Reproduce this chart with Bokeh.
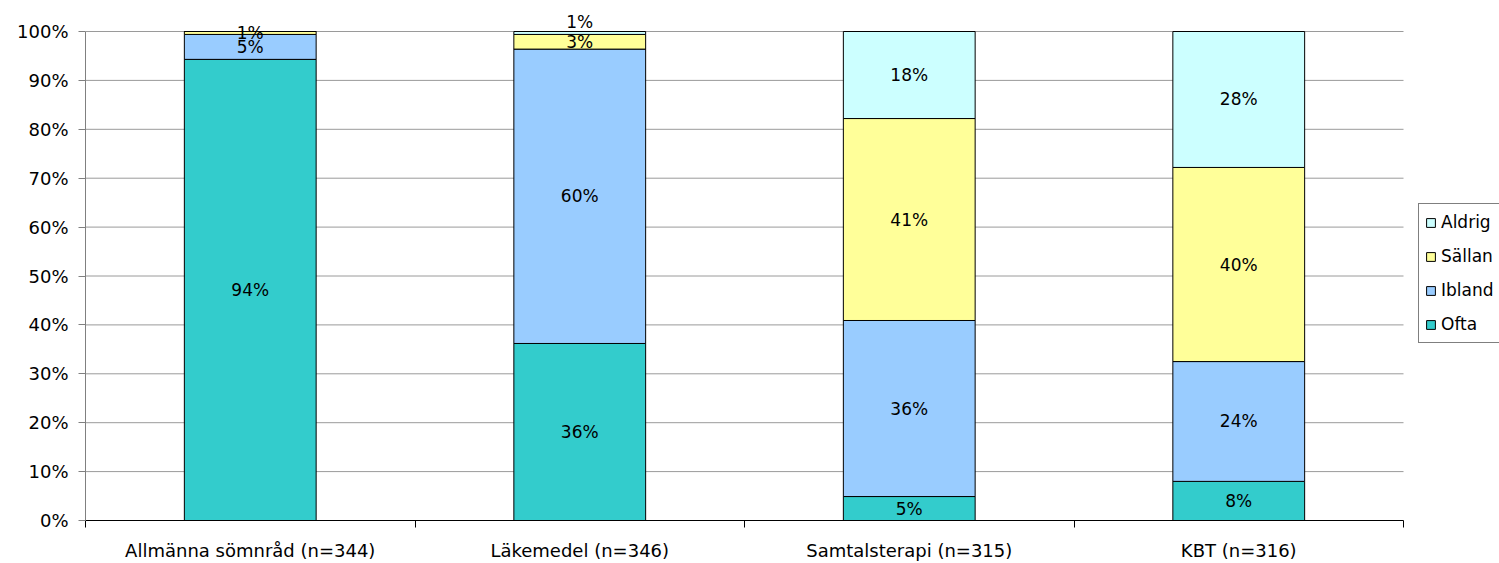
from bokeh.plotting import figure
from bokeh.models import ColumnDataSource, FixedTicker, PrintfTickFormatter, Legend, LegendItem, Range1d
from bokeh.core.properties import value
from bokeh.embed import file_html
from bokeh.resources import INLINE

categories = ["Allmänna sömnråd (n=344)", "Läkemedel (n=346)", "Samtalsterapi (n=315)", "KBT (n=316)"]
series = ["Ofta", "Ibland", "Sällan", "Aldrig"]
ofta = [94.3, 36.2, 4.9, 8.0]
ibland = [5.1, 60.2, 36.0, 24.5]
sallan = [0.6, 3.0, 41.3, 39.7]
aldrig = [0.0, 0.6, 17.8, 27.8]
colors = ["#33CCCC", "#99CCFF", "#FFFF99", "#CCFFFF"]
y_ticks = list(range(0, 101, 10))

FONT = "DejaVu Sans"
W, H = 1499, 563
left, bottom = 85, 43
plot_w = 1318                     # width of the category area in pixels
gap_top = 31                      # pixels above the 100% line
frame_h = H - bottom              # frame reaches the top of the canvas
frame_w = W - left                # frame reaches the right edge of the canvas
px_per_unit = (frame_h - gap_top) / 100.0
y_end = frame_h / px_per_unit
ncat = len(categories)
x_end = ncat * frame_w / plot_w

p = figure(width=W, height=H, output_backend="svg", toolbar_location=None,
           x_range=Range1d(0, x_end), y_range=Range1d(0, y_end),
           min_border_left=left, min_border_right=0,
           min_border_top=0, min_border_bottom=bottom)
p.outline_line_color = None
p.background_fill_color = "white"
p.border_fill_color = "white"
p.xgrid.visible = False
p.ygrid.visible = False

# horizontal gridlines limited to the category area
gl = [t for t in y_ticks if t > 0]
p.segment(x0=[0] * len(gl), x1=[ncat] * len(gl), y0=gl, y1=gl,
          line_color="#9a9a9a", line_width=1)

xs = [i + 0.5 for i in range(ncat)]
data = {"x": xs}
for name, vals in zip(series, [ofta, ibland, sallan, aldrig]):
    data[name] = vals
src = ColumnDataSource(data)

renderers = p.vbar_stack(series, x="x", width=0.4, source=src, fill_color=colors,
                         line_color="black", line_width=1)

# data labels (centered in segment; pushed up if colliding with the one below)
lx, ly, lt, loff = [], [], [], []
for i, x in enumerate(xs):
    base = 0.0
    prev_px = None
    for vals in [ofta, ibland, sallan, aldrig]:
        v = vals[i]
        if v > 0:
            c = base + v / 2.0
            cpx = c * px_per_unit
            off = 0
            if prev_px is not None and cpx - prev_px < 12:
                off = (prev_px + 20) - cpx
                cpx = prev_px + 20
            lx.append(x)
            ly.append(c)
            lt.append("%d%%" % round(v))
            loff.append(-off)
            prev_px = cpx
        base += v
lsrc = ColumnDataSource(dict(x=lx, y=ly, t=lt, off=loff))
p.text(x="x", y="y", text="t", y_offset="off", source=lsrc, text_font=value(FONT),
       text_font_size="17px", text_align="center", text_baseline="middle", text_color="black")

# axes
yax = p.yaxis[0]
yax.bounds = (0, 100)
yax.ticker = FixedTicker(ticks=y_ticks)
yax.formatter = PrintfTickFormatter(format="%d%%")
yax.axis_line_color = "#808080"
yax.major_tick_line_color = "#808080"
yax.major_tick_out = 7
yax.major_tick_in = 0
yax.minor_tick_line_color = None
yax.major_label_standoff = 10
yax.major_label_text_font = FONT
yax.major_label_text_font_size = "18px"
yax.major_label_text_color = "black"

xax = p.xaxis[0]
xax.bounds = (0, ncat)
xax.ticker = FixedTicker(ticks=xs, minor_ticks=list(range(0, ncat + 1)))
xax.major_label_overrides = {x: c for x, c in zip(xs, categories)}
xax.axis_line_color = "black"
xax.major_tick_line_color = None
xax.major_tick_out = 0
xax.major_tick_in = 0
xax.minor_tick_line_color = "black"
xax.minor_tick_out = 7
xax.minor_tick_in = 0
xax.major_label_standoff = 12
xax.major_label_text_font = FONT
xax.major_label_text_font_size = "18px"
xax.major_label_text_color = "black"

items = [LegendItem(label=name, renderers=[r]) for name, r in zip(series, renderers)]
items = items[::-1]
legend = Legend(items=items, location=(plot_w + 15, 177), orientation="vertical",
                label_text_font=FONT, label_text_font_size="17px", label_text_color="black",
                glyph_width=11, glyph_height=11, label_height=24, label_standoff=5,
                spacing=10, padding=6, margin=0,
                border_line_color="black", border_line_width=1,
                background_fill_color="white", background_fill_alpha=1.0)
p.add_layout(legend, "center")

open("out.html", "w").write(file_html(p, INLINE))
